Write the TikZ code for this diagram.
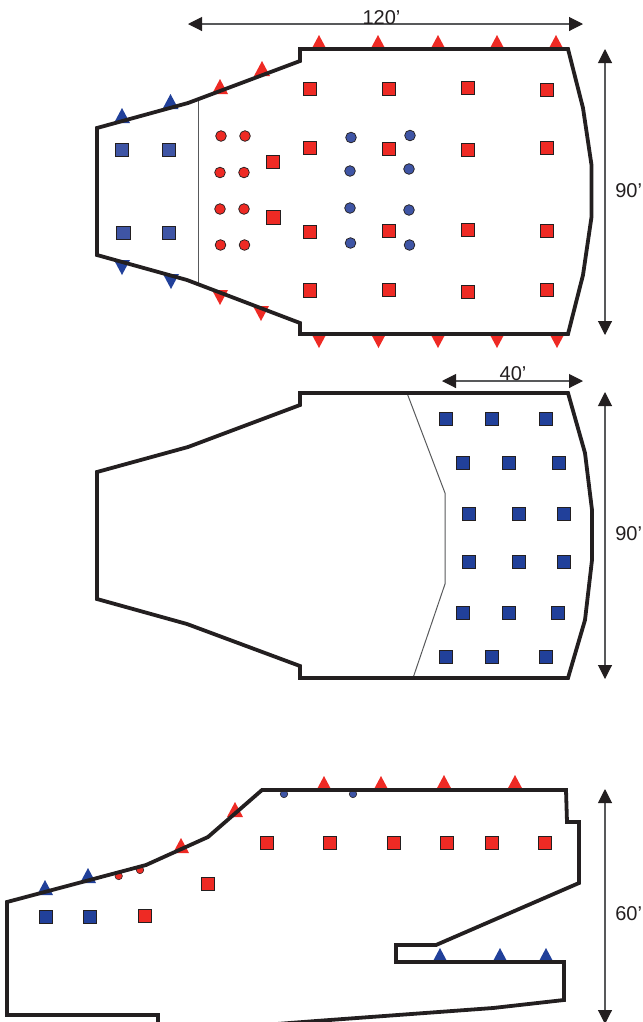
\documentclass[tikz,border=0pt]{standalone}
\usepackage{fontspec}
\setmainfont{Liberation Sans}
\usetikzlibrary{arrows.meta}
\definecolor{ink}{HTML}{231F20}
\definecolor{myred}{HTML}{EE2A24}
\definecolor{mid}{HTML}{3F55A5}
\definecolor{navy}{HTML}{21409A}
\definecolor{thin}{HTML}{58595B}
\tikzset{
 wall/.style={draw=ink,line width=2.85pt,line join=miter,miter limit=3},
 divider/.style={draw=thin,line width=0.75pt},
 dimline/.style={draw=thin,line width=0.8pt,{Triangle[length=10.5pt,width=10.5pt,color=ink]}-{Triangle[length=10.5pt,width=10.5pt,color=ink]}},
 lbl/.style={inner sep=0pt,font=\fontsize{15pt}{16pt}\selectfont,text=ink},
 sq/.style={rectangle,draw=ink,line width=0.7pt,minimum size=10.2pt,inner sep=0pt},
 redsq/.style={sq,fill=myred},
 bluesq/.style={sq,fill=mid},
 navysq/.style={sq,fill=navy,minimum size=10.4pt},
 dotm/.style={circle,draw=ink,line width=0.55pt,minimum size=8pt,inner sep=0pt},
 reddot/.style={dotm,fill=myred},
 bluedot/.style={dotm,fill=mid},
 smalldot/.style={circle,draw=ink,line width=0.4pt,minimum size=5.6pt,inner sep=0pt}
}
\begin{document}
\begin{tikzpicture}[x=0.75pt,y=-0.75pt]
\useasboundingbox (0,0) rectangle (643,1022);
\clip (0,0) rectangle (643,1022);
% --- triangles below the walls
\foreach \x/\y in {220/94,262/76,319/50,378/50,438/50,497/50,556/50,324/791,381/791,444/790,515/790,181/853,235/817}
  \fill[myred] (\x-8,\y) -- (\x,\y-15) -- (\x+8,\y) -- cycle;
\foreach \x/\y in {220/290,261/306,319/333,378.5/333,438/333,497/333,557/333}
  \fill[myred] (\x-8,\y) -- (\x,\y+15) -- (\x+8,\y) -- cycle;
\foreach \x/\y in {122/123,170.5/109,45/895,88/883,440/963,500/963,546/963}
  \fill[navy] (\x-8,\y) -- (\x,\y-15) -- (\x+8,\y) -- cycle;
\foreach \x/\y in {122/260,171/274}
  \fill[navy] (\x-8,\y) -- (\x,\y+15) -- (\x+8,\y) -- cycle;
% --- dots partly hidden by the walls
\foreach \x/\y [count=\i] in {118.7/876,140/870}
  \node[smalldot,fill=myred] (sr\i) at (\x,\y) {};
\foreach \x/\y [count=\i] in {284/794,353/794}
  \node[smalldot,fill=mid] (sb\i) at (\x,\y) {};
% --- dividers
\draw[divider] (198.5,101) -- (198.5,283);
\draw[divider] (407,393) -- (445,493) -- (445,584) -- (413,678);
% --- walls
\draw[wall] (300,49) -- (300,61) -- (188,103) -- (97,128) -- (97,255) -- (187,280) -- (300,323) -- (300,334) -- (568,334) -- (583,275) -- (591.5,217) -- (591.5,165) -- (583,108) -- (568,49) -- cycle;
\draw[wall] (300,393) -- (300,405) -- (188,447) -- (97,472) -- (97,599) -- (187,624) -- (300,666) -- (300,678) -- (568,678) -- (585,620) -- (592,560) -- (592,510) -- (585,453) -- (568,393) -- cycle;
\draw[wall] (7,902) -- (7,1015) -- (158,1015) -- (158,1040) -- (200,1040) -- (270,1024.5) -- (320,1020.7) -- (493,1008) -- (564,1000) -- (564,962) -- (396,962) -- (396,945) -- (436,945) -- (579,883) -- (579,822) -- (567,822) -- (566,790) -- (262,790) -- (208,837) -- (146,865) -- cycle;
% --- squares
\foreach \x/\y [count=\i] in {122/150,169/150,123.5/233,169/233}
  \node[bluesq] (bs\i) at (\x,\y) {};
\foreach \x/\y [count=\i] in {273/162,273.5/217.5,310/89,310/148,310/232,310/290.5,389/89,389/149,389/231,389/290,468/88,468/150,468/230,468/292,547/90,547/148,547/231,547/290,145/916,208/884,267/843,330/843,394/843,447/843,492/843,545/843}
  \node[redsq] (rs\i) at (\x,\y) {};
\foreach \x/\y [count=\i] in {446/419,492/419,546/419,463/463,509/463,559/463,469/514,519/514,564/514,469/562,519/562,564/562,463/613,509/613,558/613,446/657,492/657,546/657,46/917,90/917}
  \node[navysq] (ns\i) at (\x,\y) {};
% --- circles
\foreach \x/\y [count=\i] in {221/136,245/136,220/172.5,244/172.5,220/209,244/209,220.5/245,244.5/245}
  \node[reddot] (rd\i) at (\x,\y) {};
\foreach \x/\y [count=\i] in {351/137.5,350/171,350/208,350.5/243,410/135.5,409/169,409/210,409.5/245}
  \node[bluedot] (bd\i) at (\x,\y) {};
% --- dimensions
\coordinate (a1) at (188,24); \coordinate (a2) at (583,24);
\coordinate (b1) at (605,49); \coordinate (b2) at (605,335);
\coordinate (c1) at (442,381); \coordinate (c2) at (583,381);
\coordinate (d1) at (605,392); \coordinate (d2) at (605,679);
\coordinate (e1) at (605,789); \coordinate (e2) at (605,1024);
\foreach \p/\q in {a1/a2,b1/b2,c1/c2,d1/d2,e1/e2}
  \draw[dimline] (\p) -- (\q);
\node[lbl,anchor=base] (t120) at (381.5,24) {120’};
\node[lbl,anchor=west] (t90a) at (615,191) {90’};
\node[lbl,anchor=base] (t40) at (513,380) {40’};
\node[lbl,anchor=west] (t90b) at (615,534) {90’};
\node[lbl,anchor=west] (t60) at (615,914) {60’};
\end{tikzpicture}
\end{document}
